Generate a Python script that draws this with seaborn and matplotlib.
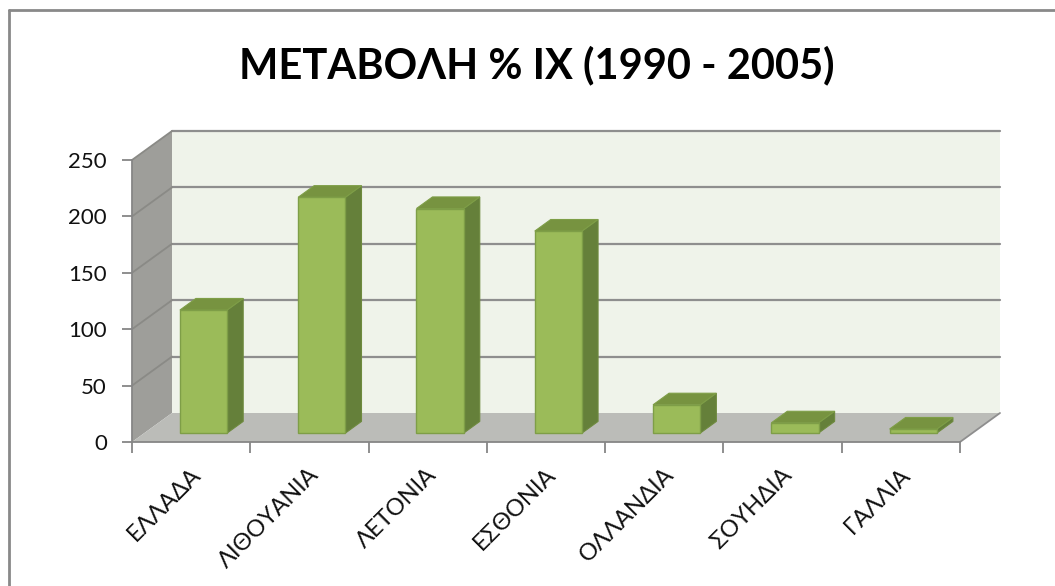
import numpy as np
import pandas as pd
import matplotlib
matplotlib.use("Agg")
import matplotlib.pyplot as plt
import seaborn as sns
from matplotlib.patches import Polygon
from matplotlib.lines import Line2D
from matplotlib.transforms import ScaledTranslation

countries = ["ΕΛΛΑΔΑ", "ΛΙΘΟΥΑΝΙΑ", "ΛΕΤΟΝΙΑ", "ΕΣΘΟΝΙΑ", "ΟΛΛΑΝΔΙΑ", "ΣΟΥΗΔΙΑ", "ΓΑΛΛΙΑ"]
change_pct = [109, 209, 199, 179, 25, 9, 3.5]
y_ticks = [0, 50, 100, 150, 200, 250]
title = "ΜΕΤΑΒΟΛΗ % ΙΧ (1990 - 2005)"

# fake 3d look like the excel chart: depth vector in pixels (right, up)
DEPTH = np.array([40.0, 29.0])
BAR_FRONT, BAR_BACK = 0.31, 0.71
GRID_COL = "#8E8E8E"

sns.set_theme(style="ticks")
plt.rcParams['font.family'] = ['Lato', 'DejaVu Sans']

fig = plt.figure(figsize=(10.55, 5.86), dpi=100)
ax = fig.add_axes([132 / 1055, 144 / 586, 828 / 1055, 282 / 586])

df = pd.DataFrame({"country": countries, "value": change_pct})
sns.barplot(data=df, x="country", y="value", color="#9BBB59", saturation=1,
            width=0.4, edgecolor="#7E9E47", linewidth=1, ax=ax, zorder=5)
ax.set_xlim(-0.5, len(countries) - 0.5)
ax.set_ylim(0, 250)
ax.patch.set_visible(False)


def shifted(x, y, f):
    """data point moved back by fraction f of the depth"""
    px = ax.transData.transform(np.column_stack([x, y]).astype(float))
    px = px + f * DEPTH
    return ax.transData.inverted().transform(px)


x0, x1 = ax.get_xlim()
ytop = y_ticks[-1]

# walls and floor
back = shifted([x0, x1, x1, x0], [0, 0, ytop, ytop], 1)
ax.add_patch(Polygon(back, closed=True, fc="#EFF3EA", ec="none", zorder=0.5, clip_on=False))
side = np.vstack([shifted([x0, x0], [0, ytop], 0), shifted([x0, x0], [ytop, 0], 1)])
ax.add_patch(Polygon(side, closed=True, fc="#9E9E9A", ec="none", zorder=0.6, clip_on=False))
floor = np.vstack([shifted([x0, x1], [0, 0], 0), shifted([x1, x0], [0, 0], 1)])
ax.add_patch(Polygon(floor, closed=True, fc="#BBBCB8", ec="none", zorder=0.7, clip_on=False))
edge = np.vstack([shifted([x1], [0], 0), shifted([x1], [0], 1)])
ax.add_line(Line2D(edge[:, 0], edge[:, 1], color=GRID_COL, lw=1.3, zorder=0.8, clip_on=False))

for yv in y_ticks[1:]:
    bl = shifted([x0, x1], [yv, yv], 1)
    ax.add_line(Line2D(bl[:, 0], bl[:, 1], color=GRID_COL, lw=1.6, zorder=0.8, clip_on=False))
    sl = np.vstack([shifted([x0], [yv], 0), shifted([x0], [yv], 1)])
    ax.add_line(Line2D(sl[:, 0], sl[:, 1], color="#8A8A86", lw=1.3, zorder=0.8, clip_on=False))

# bars: move seaborn's front faces back, add side and top faces
off = ScaledTranslation(BAR_FRONT * DEPTH[0] / fig.dpi, BAR_FRONT * DEPTH[1] / fig.dpi,
                        fig.dpi_scale_trans)
for p in list(ax.patches):
    if p.get_zorder() != 5:
        continue
    bx, bw, bh = p.get_x(), p.get_width(), p.get_height()
    p.set_transform(ax.transData + off)
    sf = np.vstack([shifted([bx + bw, bx + bw], [0, bh], BAR_FRONT),
                    shifted([bx + bw, bx + bw], [bh, 0], BAR_BACK)])
    ax.add_patch(Polygon(sf, closed=True, fc="#65803A", ec="#6E8A3E", lw=0.8, zorder=4))
    tf = np.vstack([shifted([bx, bx + bw], [bh, bh], BAR_FRONT),
                    shifted([bx + bw, bx], [bh, bh], BAR_BACK)])
    ax.add_patch(Polygon(tf, closed=True, fc="#779340", ec="#7E9E47", lw=0.8, zorder=4))

# axes, ticks, labels
for s in ["top", "right"]:
    ax.spines[s].set_visible(False)
for s in ["left", "bottom"]:
    ax.spines[s].set_color("#868686")
    ax.spines[s].set_linewidth(1.3)

px_unit = ax.transData.transform([1, 0])[0] - ax.transData.transform([0, 0])[0]
lab_shift = 6.0 / px_unit
ax.set_xticks(np.arange(len(countries)) + lab_shift, labels=countries,
              rotation=45, ha="right", va="center", rotation_mode="anchor")
ax.set_xticks(np.arange(len(countries) + 1) - 0.5, minor=True)
ax.tick_params(axis="x", which="major", length=0, pad=21, labelsize=17, labelcolor="#111111")
ax.tick_params(axis="x", which="minor", length=8, width=1.3, color="#868686")
ax.set_yticks(y_ticks)
ax.tick_params(axis="y", length=7, width=1.3, color="#868686", pad=11, labelsize=16,
               labelcolor="#111111")
ax.set_xlabel("")
ax.set_ylabel("")

fig.text(537 / 1055, 1 - 65 / 586, title, fontsize=30, fontweight="bold",
         ha="center", va="center", color="black")

# chart area frame (only left and top visible in the crop)
fig.add_artist(Line2D([9 / 1055, 9 / 1055], [0, 1 - 10 / 586], color="#898989", lw=2))
fig.add_artist(Line2D([9 / 1055, 1], [1 - 10 / 586, 1 - 10 / 586], color="#898989", lw=2))

fig.savefig("out.png", dpi=100)
